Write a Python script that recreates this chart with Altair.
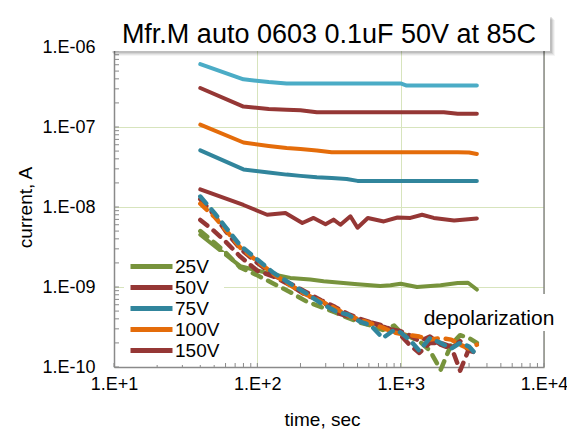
import altair as alt
import pandas as pd

# ---------------- texts ----------------
title_text = "Mfr.M auto 0603 0.1uF 50V at 85C"
annotation_text = "depolarization"
x_title = "time, sec"
y_title = "current, A"

# ---------------- axis ticks ----------------
x_tick_values = [10, 100, 1000, 10000]
x_tick_labels = ["1.E+1", "1.E+2", "1.E+3", "1.E+4"]
x_tick_exponents = [1, 2, 3, 4]
y_tick_values = [1e-10, 1e-9, 1e-8, 1e-7, 1e-6]
y_tick_labels = ["1.E-10", "1.E-09", "1.E-08", "1.E-07", "1.E-06"]
y_tick_exponents = [-10, -9, -8, -7, -6]
minor_multipliers = [1, 2, 3, 4, 5, 6, 7, 8, 9]

# ---------------- series ----------------
series_names = ["25V", "50V", "75V", "100V", "150V", "200V"]
series_colors = ["#77933C", "#953735", "#31859C", "#E46C0A", "#953735", "#4BACC6"]
legend_names = ["25V", "50V", "75V", "100V", "150V"]

# charging (solid) currents
t_charge = [40, 80, 120, 160, 200, 260, 330, 420, 500, 600, 800, 1000, 1100, 1400, 1700, 2000, 2500, 3000, 3400]
i_200V = [6.1e-7, 3.95e-7, 3.65e-7, 3.5e-7, 3.5e-7, 3.5e-7, 3.5e-7, 3.5e-7, 3.5e-7, 3.5e-7, 3.5e-7, 3.5e-7,
          3.3e-7, 3.3e-7, 3.3e-7, 3.3e-7, 3.3e-7, 3.3e-7, 3.3e-7]
i_150V = [3.07e-7, 1.8e-7, 1.68e-7, 1.64e-7, 1.62e-7, 1.53e-7, 1.53e-7, 1.53e-7, 1.53e-7, 1.53e-7, 1.53e-7,
          1.53e-7, 1.53e-7, 1.53e-7, 1.53e-7, 1.53e-7, 1.46e-7, 1.46e-7, 1.46e-7]
i_100V = [1.07e-7, 6.4e-8, 5.8e-8, 5.46e-8, 5.3e-8, 5.1e-8, 4.85e-8, 4.83e-8, 4.83e-8, 4.83e-8, 4.83e-8,
          4.83e-8, 4.83e-8, 4.83e-8, 4.83e-8, 4.83e-8, 4.83e-8, 4.8e-8, 4.6e-8]
i_75V = [5.1e-8, 2.95e-8, 2.7e-8, 2.54e-8, 2.45e-8, 2.35e-8, 2.3e-8, 2.24e-8, 2.12e-8, 2.12e-8, 2.12e-8,
         2.12e-8, 2.12e-8, 2.12e-8, 2.12e-8, 2.12e-8, 2.12e-8, 2.12e-8, 2.12e-8]
t_50V = [40, 80, 117, 157, 206, 247, 299, 340, 380, 446, 500, 590, 763, 950, 1170, 1410, 1700, 2360, 3400]
i_50V = [1.66e-8, 1.06e-8, 8.0e-9, 8.4e-9, 6.3e-9, 7.3e-9, 6.1e-9, 6.95e-9, 6.0e-9, 7.65e-9, 5.5e-9,
         7.3e-9, 6.6e-9, 7.4e-9, 7.3e-9, 8.0e-9, 7.3e-9, 6.8e-9, 7.2e-9]
t_25V = [40, 76, 130, 170, 234, 290, 500, 720, 850, 1000, 1300, 1900, 2500, 2950, 3400]
i_25V = [4.5e-9, 1.82e-9, 1.43e-9, 1.3e-9, 1.24e-9, 1.18e-9, 1.08e-9, 1.03e-9, 1.05e-9, 1.1e-9, 1.0e-9,
         1.05e-9, 1.12e-9, 1.13e-9, 9.3e-10]

# depolarization (dashed) currents
t_depol = [40, 50, 60, 76, 100, 130, 170, 220, 280, 350, 430, 520, 620, 750, 900, 1000, 1150, 1350,
           1600, 1900, 2250, 2600, 3000, 3400]
d_25V = [5.0e-9, 3.6e-9, 2.7e-9, 1.75e-9, 1.4e-9, 1.1e-9, 8.6e-10, 6.6e-10, 5.6e-10, 4.8e-10, 4.1e-10, 3.6e-10,
         3.3e-10, 2.9e-10, 3.3e-10, 2.7e-10, 2.4e-10, 2.1e-10, 1.6e-10, 9.2e-11, 1.9e-10, 2.5e-10, 2.3e-10, 2.0e-10]
d_50V = [6.9e-9, 5.0e-9, 3.7e-9, 2.4e-9, 1.6e-9, 1.35e-9, 1.05e-9, 7.8e-10, 6.8e-10, 4.8e-10, 4.3e-10, 3.8e-10,
         3.6e-10, 3.3e-10, 2.8e-10, 2.5e-10, 1.9e-10, 1.5e-10, 2.0e-10, 2.0e-10, 1.8e-10, 9.0e-11, 1.7e-10, 1.6e-10]
d_150V = [1.25e-8, 8.0e-9, 5.0e-9, 3.0e-9, 2.0e-9, 1.4e-9, 1.1e-9, 8.6e-10, 6.8e-10, 5.6e-10, 4.6e-10, 4.0e-10,
          3.6e-10, 3.2e-10, 2.9e-10, 2.8e-10, 2.5e-10, 2.1e-10, 2.4e-10, 1.9e-10, 1.7e-10, 2.1e-10, 1.6e-10, 1.5e-10]
d_100V = [1.1e-8, 7.6e-9, 5.2e-9, 3.1e-9, 2.1e-9, 1.45e-9, 1.05e-9, 8.0e-10, 6.6e-10, 5.4e-10, 4.4e-10, 3.9e-10,
          3.5e-10, 3.1e-10, 2.7e-10, 2.6e-10, 2.5e-10, 2.4e-10, 2.2e-10, 2.3e-10, 2.2e-10, 1.9e-10, 1.7e-10, 1.9e-10]
d_75V = [1.35e-8, 8.5e-9, 5.6e-9, 3.3e-9, 2.2e-9, 1.5e-9, 1.1e-9, 8.3e-10, 6.2e-10, 5.0e-10, 4.5e-10, 3.7e-10,
         3.3e-10, 2.3e-10, 2.9e-10, 2.7e-10, 2.2e-10, 1.6e-10, 2.3e-10, 2.0e-10, 1.7e-10, 2.0e-10, 1.8e-10, 1.4e-10]

# ---------------- tables ----------------
def long_table(items):
    rows = []
    for name, ts, vs in items:
        for t, v in zip(ts, vs):
            rows.append({"series": name, "t": t, "i": v})
    return pd.DataFrame(rows)

charge_df = long_table([
    ("25V", t_25V, i_25V), ("50V", t_50V, i_50V), ("75V", t_charge, i_75V),
    ("100V", t_charge, i_100V), ("150V", t_charge, i_150V), ("200V", t_charge, i_200V),
])
depol_df = long_table([
    ("25V", t_depol, d_25V), ("50V", t_depol, d_50V), ("150V", t_depol, d_150V),
    ("100V", t_depol, d_100V), ("75V", t_depol, d_75V),
])

x_minor_df = pd.DataFrame({"t": [m * 10 ** e for e in x_tick_exponents[:-1] for m in minor_multipliers] + [x_tick_values[-1]]})
y_minor_df = pd.DataFrame({"i": [m * 10.0 ** e for e in y_tick_exponents[:-1] for m in minor_multipliers] + [y_tick_values[-1]]})
frame_df = pd.DataFrame({"t": [x_tick_values[-1]], "i": [y_tick_values[0]], "i2": [y_tick_values[-1]]})
text_df = pd.DataFrame({"title": [title_text], "note": [annotation_text]})

# ---------------- scales / axes ----------------
FONT = "Liberation Sans"
GRAY = "#8a8a8a"
xscale = alt.Scale(type="log", domain=[x_tick_values[0], x_tick_values[-1]], nice=False)
yscale = alt.Scale(type="log", domain=[y_tick_values[0], y_tick_values[-1]], nice=False)

x_label_expr = " : ".join(
    f"round(log(datum.value)/LN10) == {e} ? '{lab}'" for e, lab in zip(x_tick_exponents, x_tick_labels)) + " : ''"
y_label_expr = " : ".join(
    f"round(log(datum.value)/LN10) == {e} ? '{lab}'" for e, lab in zip(y_tick_exponents, y_tick_labels)) + " : ''"

xaxis = alt.Axis(values=x_tick_values, labelExpr=x_label_expr, grid=True, gridColor="#d7e4bd", gridWidth=1,
                 ticks=False, tickSize=0, domainColor=GRAY, domainWidth=1.5, labelFont=FONT, labelFontSize=18,
                 labelColor="#000000", labelPadding=8, labelFlush=False, labelOverlap=False, labelBound=False,
                 title=x_title, titleFont=FONT, titleFontSize=19, titleFontWeight="normal", titleColor="#000000",
                 titleX=208, titleY=52, titleBaseline="middle")
yaxis = alt.Axis(values=y_tick_values, labelExpr=y_label_expr, grid=True, gridColor="#d7e4bd", gridWidth=1,
                 ticks=False, tickSize=0, domainColor=GRAY, domainWidth=1.5, labelFont=FONT, labelFontSize=18,
                 labelColor="#000000", labelPadding=19, labelFlush=False, labelOverlap=False, labelBound=False,
                 title=y_title, titleFont=FONT, titleFontSize=19, titleFontWeight="normal", titleColor="#000000",
                 titleX=-89, titleY=160, titleBaseline="middle")

X = alt.X("t:Q", scale=xscale, axis=xaxis)
Y = alt.Y("i:Q", scale=yscale, axis=yaxis)

color_scale = alt.Scale(domain=series_names, range=series_colors)
legend = alt.Legend(values=legend_names, orient="none", legendX=10, legendY=205, title=None,
                    symbolType="stroke", symbolSize=1764, symbolStrokeWidth=5, symbolDash=[1, 0],
                    labelFont=FONT, labelFontSize=19, labelColor="#000000", labelOffset=0,
                    clipHeight=21, rowPadding=0, fillColor="white", padding=4)

# ---------------- layers ----------------
x_ticks = alt.Chart(x_minor_df).mark_rule(color=GRAY, strokeWidth=1).encode(
    x=X, y=alt.value(320), y2=alt.value(316))
y_ticks = alt.Chart(y_minor_df).mark_rule(color=GRAY, strokeWidth=1).encode(
    y=Y, x=alt.value(0), x2=alt.value(5))
frame_right = alt.Chart(frame_df).mark_rule(color=GRAY, strokeWidth=1.5).encode(x=X, y=Y, y2="i2:Q")

note_box = alt.Chart(text_df).mark_rect(color="white").encode(
    x=alt.value(304), x2=alt.value(446), y=alt.value(247), y2=alt.value(284))

solid = alt.Chart(charge_df).mark_line(strokeWidth=4, strokeCap="round", strokeJoin="round").encode(
    x=X, y=Y, color=alt.Color("series:N", scale=color_scale, legend=legend), detail="series:N")
dashed = alt.Chart(depol_df).mark_line(strokeWidth=4.5, strokeCap="round", strokeJoin="round",
                                       strokeDash=[9, 8]).encode(
    x=X, y=Y, color=alt.Color("series:N", scale=color_scale, legend=None), detail="series:N")

note_text = alt.Chart(text_df).mark_text(font=FONT, fontSize=21, align="center", baseline="alphabetic",
                                         color="#000000").encode(
    x=alt.value(375), y=alt.value(278), text="note:N")

shadows = [
    alt.Chart(text_df).mark_rect(color="#000000", opacity=op).encode(
        x=alt.value(-4 + d), x2=alt.value(436 + d), y=alt.value(-32 + d), y2=alt.value(4 + d))
    for d, op in [(5, 0.04), (4, 0.06), (3, 0.08), (2, 0.1)]
]
title_box = alt.Chart(text_df).mark_rect(color="white").encode(
    x=alt.value(-4), x2=alt.value(436), y=alt.value(-32), y2=alt.value(4))
title_mark = alt.Chart(text_df).mark_text(font=FONT, fontSize=27, align="center", baseline="alphabetic",
                                          color="#000000").encode(
    x=alt.value(215), y=alt.value(-4), text="title:N")

chart = alt.layer(
    x_ticks, y_ticks, frame_right, note_box, solid, dashed, note_text, *shadows, title_box, title_mark
).properties(
    width=430, height=320,
    autosize=alt.AutoSizeParams(type="none"),
    padding={"left": 114, "top": 47, "right": 23, "bottom": 78},
    background="white",
).configure_view(stroke=None)

chart.save("out.html", embed_options={"renderer": "svg", "actions": False})
